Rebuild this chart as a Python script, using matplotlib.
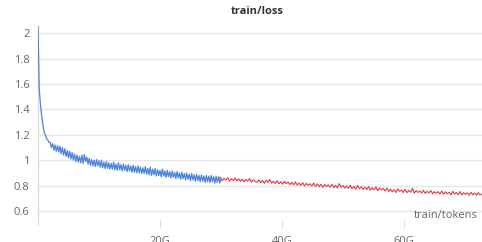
import numpy as np
import matplotlib
matplotlib.use("Agg")
import matplotlib.pyplot as plt

plt.rcParams['font.family'] = ['Open Sans', 'DejaVu Sans']

# ---- data (tokens in G) ----
blue_step = 0.2
loss_blue = [
    2.05, 1.56, 1.44, 1.35, 1.28, 1.22, 1.20, 1.17, 1.16, 1.14,
    1.14, 1.10, 1.13, 1.08, 1.12, 1.07, 1.115, 1.065, 1.11, 1.05,
    1.10, 1.04, 1.09, 1.03, 1.075, 1.02, 1.07, 1.01, 1.06, 1.00,
    1.05, 0.99, 1.04, 0.985, 1.03, 0.98, 1.04, 0.975, 1.045, 0.99,
    1.025, 0.97, 1.015, 0.96, 1.005, 0.955, 1.00, 0.95, 1.005, 0.955,
    0.995, 0.945, 1.00, 0.94, 0.985, 0.935, 0.99, 0.935, 0.98, 0.93,
    0.975, 0.93, 0.985, 0.925, 0.97, 0.92, 0.98, 0.925, 0.965, 0.915,
    0.97, 0.92, 0.96, 0.91, 0.965, 0.915, 0.955, 0.905, 0.96, 0.905,
    0.95, 0.90, 0.955, 0.90, 0.945, 0.895, 0.94, 0.895, 0.95, 0.89,
    0.935, 0.885, 0.945, 0.88, 0.93, 0.885, 0.935, 0.875, 0.925, 0.88,
    0.92, 0.87, 0.93, 0.875, 0.915, 0.865, 0.92, 0.87, 0.91, 0.86,
    0.915, 0.865, 0.905, 0.855, 0.91, 0.86, 0.90, 0.85, 0.905, 0.855,
    0.895, 0.845, 0.90, 0.85, 0.89, 0.84, 0.895, 0.845, 0.885, 0.835,
    0.89, 0.84, 0.88, 0.83, 0.885, 0.835, 0.875, 0.825, 0.88, 0.83,
    0.875, 0.825, 0.88, 0.83, 0.87, 0.82, 0.875, 0.825, 0.87, 0.82, 0.85,
]
red_start = 29.6
red_step = 0.3
loss_red = [
    0.85, 0.866, 0.838, 0.858, 0.843, 0.862, 0.835, 0.855, 0.84, 0.86,
    0.837, 0.853, 0.833, 0.851, 0.829, 0.849, 0.835, 0.856, 0.827, 0.846,
    0.832, 0.826, 0.846, 0.823, 0.841, 0.818, 0.843, 0.826, 0.849, 0.82,
    0.834, 0.817, 0.839, 0.814, 0.831, 0.811, 0.833, 0.815, 0.829, 0.808,
    0.825, 0.806, 0.829, 0.804, 0.821, 0.801, 0.823, 0.796, 0.818, 0.802,
    0.815, 0.796, 0.82, 0.794, 0.813, 0.791, 0.811, 0.786, 0.809, 0.793,
    0.806, 0.788, 0.81, 0.784, 0.803, 0.781, 0.816, 0.786, 0.801, 0.78,
    0.798, 0.778, 0.803, 0.775, 0.795, 0.772, 0.801, 0.776, 0.791, 0.77,
    0.787, 0.768, 0.793, 0.764, 0.783, 0.767, 0.789, 0.761, 0.781, 0.766,
    0.778, 0.758, 0.781, 0.754, 0.773, 0.751, 0.768, 0.746, 0.775, 0.754,
    0.765, 0.746, 0.771, 0.744, 0.763, 0.748, 0.778, 0.741, 0.761, 0.746,
    0.758, 0.741, 0.763, 0.738, 0.755, 0.742, 0.761, 0.736, 0.753, 0.739,
    0.753, 0.734, 0.757, 0.732, 0.751, 0.736, 0.748, 0.728, 0.755, 0.734,
    0.747, 0.729, 0.753, 0.726, 0.745, 0.731, 0.743, 0.724, 0.748, 0.728,
    0.741, 0.724, 0.745, 0.726, 0.735,
]
tokens_blue = np.arange(len(loss_blue)) * blue_step
tokens_red = red_start + np.arange(len(loss_red)) * red_step

yticks = [0.6, 0.8, 1.0, 1.2, 1.4, 1.6, 1.8, 2.0]
ytick_labels = ["0.6", "0.8", "1", "1.2", "1.4", "1.6", "1.8", "2"]
xticks = [20, 40, 60]
xtick_labels = ["20G", "40G", "60G"]

# ---- figure ----
W, H = 482, 242
fig = plt.figure(figsize=(W / 100, H / 100), dpi=100)
ax = fig.add_axes([38 / W, (H - 224) / H, (W - 38) / W, (224 - 26) / H])

ax.plot(tokens_red, loss_red, color="#dd3e40", lw=0.8, zorder=2)
ax.plot(tokens_blue, loss_blue, color="#4b82dc", lw=0.9, zorder=3)

ax.set_xlim(0, 72.8)
ax.set_ylim(0.498, 2.056)

ax.set_yticks(yticks)
ax.set_yticklabels(ytick_labels)
ax.set_xticks(xticks)
ax.set_xticklabels(xtick_labels)

ax.grid(axis="y", color="#e6e6e6", lw=1.0)
ax.set_axisbelow(True)
for s in ["top", "right", "bottom"]:
    ax.spines[s].set_visible(False)
ax.spines["left"].set_color("#dddddd")
ax.spines["left"].set_linewidth(1.0)

ax.tick_params(axis="y", length=0, pad=6, labelsize=8, labelcolor="#666666")
ax.tick_params(axis="x", length=6, direction="inout", color="#dddddd",
               pad=6, labelsize=8, labelcolor="#666666")

fig.text(257 / W, 1 - 11 / H, "train/loss", ha="center", va="center",
         fontsize=8, fontweight="bold", color="#333333")
fig.text(478 / W, 1 - 216 / H, "train/tokens", ha="right", va="center",
         fontsize=8, color="#666666")

fig.savefig("out.png", dpi=100)
